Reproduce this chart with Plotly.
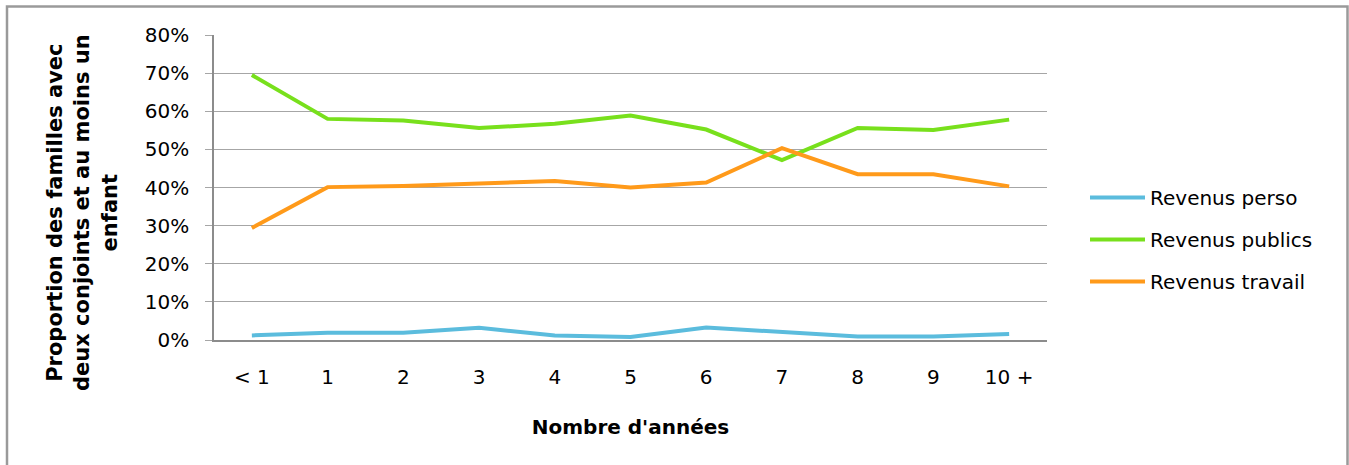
import plotly.graph_objects as go

# Years of duration categories
categories = ["< 1", "1", "2", "3", "4", "5", "6", "7", "8", "9", "10 +"]

# Share of two-parent families with at least one child, by income source (%)
revenus_perso = [1.2, 1.9, 1.9, 3.2, 1.2, 0.8, 3.3, 2.2, 0.9, 0.9, 1.6]
revenus_publics = [69.5, 58.0, 57.6, 55.6, 56.7, 58.9, 55.2, 47.2, 55.6, 55.1, 57.8]
revenus_travail = [29.4, 40.1, 40.4, 41.0, 41.7, 40.0, 41.3, 50.3, 43.5, 43.5, 40.3]

series = [
    ("Revenus perso", revenus_perso, "#5bbcdd"),
    ("Revenus publics", revenus_publics, "#78e01c"),
    ("Revenus travail", revenus_travail, "#ff9a1a"),
]

W, H = 1349, 465
L, R, T, B = 214, 1047, 35, 340  # plot area in pixels

fig = go.Figure()
for i, (name, vals, color) in enumerate(series):
    fig.add_trace(go.Scatter(
        x=categories,
        y=[v / 100 for v in vals],
        mode="lines",
        name=name,
        legendgroup=f"g{i}",
        line=dict(color=color, width=4),
    ))

font = "DejaVu Sans, sans-serif"

# Outer frame around the whole chart
px = lambda x: (x - L) / (R - L)
py = lambda y: (B - y) / (B - T)
fig.add_shape(type="rect", xref="paper", yref="paper",
              x0=px(7), x1=px(1347.5), y0=py(475), y1=py(6.5),
              line=dict(color="#9a9a9a", width=2.5), fillcolor="rgba(0,0,0,0)",
              layer="below")

fig.update_layout(
    width=W, height=H,
    margin=dict(l=L, r=W - R, t=T, b=H - B, autoexpand=False),
    paper_bgcolor="white",
    plot_bgcolor="white",
    font=dict(family=font, size=20, color="#000000"),
    showlegend=True,
    legend=dict(
        x=px(1085), y=py(178), xanchor="left", yanchor="top",
        font=dict(family=font, size=20, color="#000"),
        tracegroupgap=13,
        itemwidth=55,
        bgcolor="rgba(0,0,0,0)",
    ),
    xaxis=dict(
        type="category",
        range=[-0.5, 10.5],
        showgrid=False,
        showline=True, linecolor="#8c8c8c", linewidth=1.5,
        ticks="",
        ticklabelstandoff=18,
        tickfont=dict(family=font, size=20),
        title=dict(text="<b>Nombre d'années</b>", font=dict(family=font, size=20), standoff=32),
        fixedrange=True,
    ),
    yaxis=dict(
        range=[0, 0.8],
        tickvals=[0, 0.1, 0.2, 0.3, 0.4, 0.5, 0.6, 0.7, 0.8],
        tickformat=".0%",
        showgrid=True, gridcolor="#a6a6a6", gridwidth=1.2,
        showline=True, linecolor="#8c8c8c", linewidth=1.5,
        ticks="outside", ticklen=7, tickcolor="#a6a6a6", tickwidth=1.2,
        ticklabelstandoff=12,
        tickfont=dict(family=font, size=20),
        zeroline=False,
        fixedrange=True,
    ),
)

# Three-line bold axis title on the left
fig.add_annotation(
    xref="paper", yref="paper", x=px(82), y=py(213),
    text="<b>Proportion des familles avec<br>deux conjoints et au moins un<br>enfant</b>",
    textangle=-90, showarrow=False,
    font=dict(family=font, size=21, color="#000"),
    xanchor="center", yanchor="middle",
)

fig.write_html("out.html")
